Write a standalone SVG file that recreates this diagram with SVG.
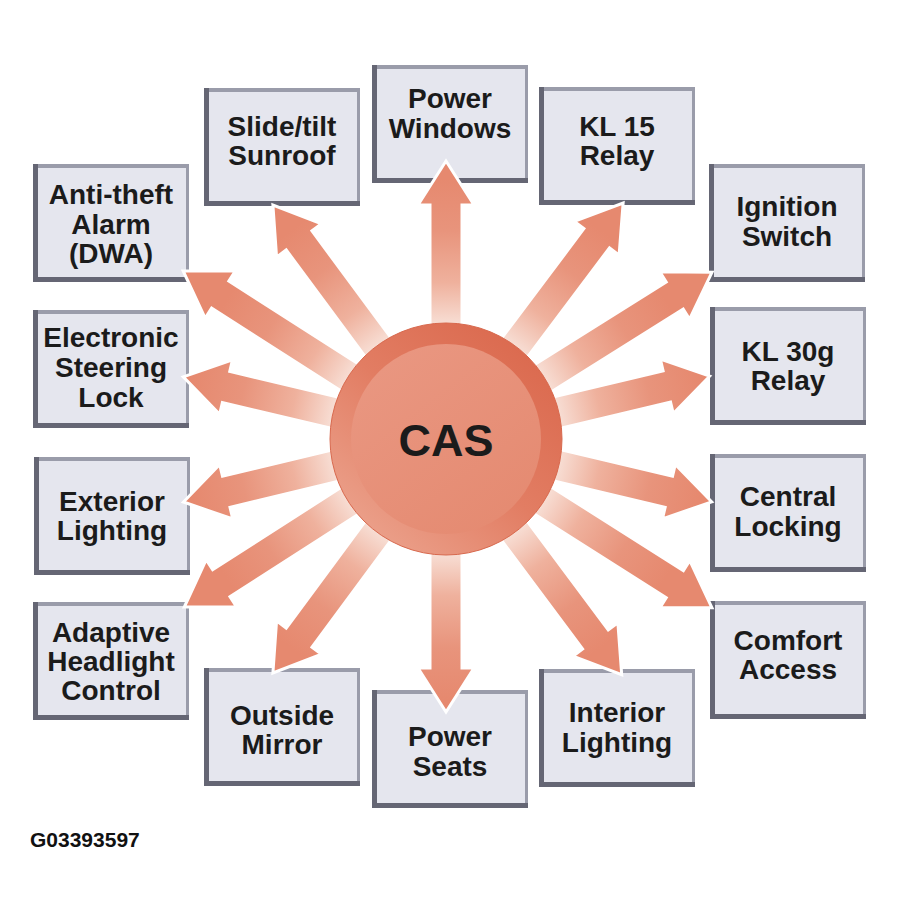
<svg xmlns="http://www.w3.org/2000/svg" width="900" height="912" viewBox="0 0 900 912">
<defs>
<linearGradient id="ray" gradientUnits="userSpaceOnUse" x1="112" y1="0" x2="260" y2="0">
<stop offset="0" stop-color="#f8e1d8"/>
<stop offset="0.3" stop-color="#efb19d"/>
<stop offset="0.65" stop-color="#e8947c"/>
<stop offset="1" stop-color="#e6896f"/>
</linearGradient>
<linearGradient id="ring" x1="0.85" y1="0.1" x2="0.15" y2="0.9">
<stop offset="0" stop-color="#db6a4f"/>
<stop offset="0.5" stop-color="#e27d63"/>
<stop offset="1" stop-color="#eba08a"/>
</linearGradient>
<linearGradient id="core" x1="0.2" y1="0.1" x2="0.8" y2="0.9">
<stop offset="0" stop-color="#e99680"/>
<stop offset="1" stop-color="#e58b72"/>
</linearGradient>
<style>
.frame{fill:#9a9caa}
.shade{fill:#656674}
.face{fill:#e5e6ee}
.lbl{font-family:"Liberation Sans",Arial,Helvetica,sans-serif;font-weight:bold;font-size:28px;fill:#1b1b1b;text-anchor:middle}
.arrow{fill:url(#ray);stroke:#ffffff;stroke-width:3;stroke-linejoin:miter}
</style>
</defs>
<rect width="900" height="912" fill="#ffffff"/>

<g id="nodes">
<g id="power-windows" transform="translate(372,65)"><rect class="frame" width="156" height="118"/><rect class="shade" width="5" height="118"/><rect class="shade" y="113" width="156" height="5"/><rect class="face" x="5" y="4" width="148" height="109"/><text class="lbl" x="78" y="43">Power</text><text class="lbl" x="78" y="73">Windows</text></g>
<g id="sunroof" transform="translate(204,88)"><rect class="frame" width="156" height="118"/><rect class="shade" width="5" height="118"/><rect class="shade" y="113" width="156" height="5"/><rect class="face" x="5" y="4" width="148" height="109"/><text class="lbl" x="78" y="48">Slide/tilt</text><text class="lbl" x="78" y="77">Sunroof</text></g>
<g id="kl15" transform="translate(539,87)"><rect class="frame" width="156" height="118"/><rect class="shade" width="5" height="118"/><rect class="shade" y="113" width="156" height="5"/><rect class="face" x="5" y="4" width="148" height="109"/><text class="lbl" x="78" y="49">KL 15</text><text class="lbl" x="78" y="78">Relay</text></g>
<g id="anti-theft" transform="translate(33,164)"><rect class="frame" width="156" height="118"/><rect class="shade" width="5" height="118"/><rect class="shade" y="113" width="156" height="5"/><rect class="face" x="5" y="4" width="148" height="109"/><text class="lbl" x="78" y="40">Anti-theft</text><text class="lbl" x="78" y="70">Alarm</text><text class="lbl" x="78" y="99">(DWA)</text></g>
<g id="ignition" transform="translate(709,164)"><rect class="frame" width="156" height="118"/><rect class="shade" width="5" height="118"/><rect class="shade" y="113" width="156" height="5"/><rect class="face" x="5" y="4" width="148" height="109"/><text class="lbl" x="78" y="52">Ignition</text><text class="lbl" x="78" y="82">Switch</text></g>
<g id="steering-lock" transform="translate(33,310)"><rect class="frame" width="156" height="118"/><rect class="shade" width="5" height="118"/><rect class="shade" y="113" width="156" height="5"/><rect class="face" x="5" y="4" width="148" height="109"/><text class="lbl" x="78" y="37">Electronic</text><text class="lbl" x="78" y="67">Steering</text><text class="lbl" x="78" y="97">Lock</text></g>
<g id="kl30g" transform="translate(710,307)"><rect class="frame" width="156" height="118"/><rect class="shade" width="5" height="118"/><rect class="shade" y="113" width="156" height="5"/><rect class="face" x="5" y="4" width="148" height="109"/><text class="lbl" x="78" y="54">KL 30g</text><text class="lbl" x="78" y="83">Relay</text></g>
<g id="exterior-lighting" transform="translate(34,457)"><rect class="frame" width="156" height="118"/><rect class="shade" width="5" height="118"/><rect class="shade" y="113" width="156" height="5"/><rect class="face" x="5" y="4" width="148" height="109"/><text class="lbl" x="78" y="54">Exterior</text><text class="lbl" x="78" y="83">Lighting</text></g>
<g id="central-locking" transform="translate(710,454)"><rect class="frame" width="156" height="118"/><rect class="shade" width="5" height="118"/><rect class="shade" y="113" width="156" height="5"/><rect class="face" x="5" y="4" width="148" height="109"/><text class="lbl" x="78" y="52">Central</text><text class="lbl" x="78" y="82">Locking</text></g>
<g id="adaptive-headlight" transform="translate(33,602)"><rect class="frame" width="156" height="118"/><rect class="shade" width="5" height="118"/><rect class="shade" y="113" width="156" height="5"/><rect class="face" x="5" y="4" width="148" height="109"/><text class="lbl" x="78" y="40">Adaptive</text><text class="lbl" x="78" y="69">Headlight</text><text class="lbl" x="78" y="98">Control</text></g>
<g id="comfort-access" transform="translate(710,601)"><rect class="frame" width="156" height="118"/><rect class="shade" width="5" height="118"/><rect class="shade" y="113" width="156" height="5"/><rect class="face" x="5" y="4" width="148" height="109"/><text class="lbl" x="78" y="49">Comfort</text><text class="lbl" x="78" y="78">Access</text></g>
<g id="outside-mirror" transform="translate(204,668)"><rect class="frame" width="156" height="118"/><rect class="shade" width="5" height="118"/><rect class="shade" y="113" width="156" height="5"/><rect class="face" x="5" y="4" width="148" height="109"/><text class="lbl" x="78" y="57">Outside</text><text class="lbl" x="78" y="86">Mirror</text></g>
<g id="power-seats" transform="translate(372,690)"><rect class="frame" width="156" height="118"/><rect class="shade" width="5" height="118"/><rect class="shade" y="113" width="156" height="5"/><rect class="face" x="5" y="4" width="148" height="109"/><text class="lbl" x="78" y="56">Power</text><text class="lbl" x="78" y="86">Seats</text></g>
<g id="interior-lighting" transform="translate(539,669)"><rect class="frame" width="156" height="118"/><rect class="shade" width="5" height="118"/><rect class="shade" y="113" width="156" height="5"/><rect class="face" x="5" y="4" width="148" height="109"/><text class="lbl" x="78" y="53">Interior</text><text class="lbl" x="78" y="83">Lighting</text></g>
</g>

<g id="connectors">
<path class="arrow" transform="translate(446,439) rotate(-90)" d="M0,-16 L234,-16 L234,-28 L278,0 L234,28 L234,16 L0,16 Z"/>
<path class="arrow" transform="translate(446,439) rotate(-126.5)" d="M0,-16 L247,-16 L247,-28 L291,0 L247,28 L247,16 L0,16 Z"/>
<path class="arrow" transform="translate(446,439) rotate(-53.1)" d="M0,-16 L251,-16 L251,-28 L295,0 L251,28 L251,16 L0,16 Z"/>
<path class="arrow" transform="translate(446,439) rotate(-147.4)" d="M0,-16 L268,-16 L268,-28 L312,0 L268,28 L268,16 L0,16 Z"/>
<path class="arrow" transform="translate(446,439) rotate(-32.1)" d="M0,-16 L270,-16 L270,-28 L314,0 L270,28 L270,16 L0,16 Z"/>
<path class="arrow" transform="translate(446,439) rotate(-166.7)" d="M0,-16 L226,-16 L226,-28 L270,0 L226,28 L226,16 L0,16 Z"/>
<path class="arrow" transform="translate(446,439) rotate(-13.4)" d="M0,-16 L227,-16 L227,-28 L271,0 L227,28 L227,16 L0,16 Z"/>
<path class="arrow" transform="translate(446,439) rotate(166.5)" d="M0,-16 L226,-16 L226,-28 L270,0 L226,28 L226,16 L0,16 Z"/>
<path class="arrow" transform="translate(446,439) rotate(13.3)" d="M0,-16 L229,-16 L229,-28 L273,0 L229,28 L229,16 L0,16 Z"/>
<path class="arrow" transform="translate(446,439) rotate(147.3)" d="M0,-16 L267,-16 L267,-28 L311,0 L267,28 L267,16 L0,16 Z"/>
<path class="arrow" transform="translate(446,439) rotate(32.4)" d="M0,-16 L271,-16 L271,-28 L315,0 L271,28 L271,16 L0,16 Z"/>
<path class="arrow" transform="translate(446,439) rotate(126.5)" d="M0,-16 L247,-16 L247,-28 L291,0 L247,28 L247,16 L0,16 Z"/>
<path class="arrow" transform="translate(446,439) rotate(53.3)" d="M0,-16 L250,-16 L250,-28 L294,0 L250,28 L250,16 L0,16 Z"/>
<path class="arrow" transform="translate(446,439) rotate(90)" d="M0,-16 L229,-16 L229,-28 L273,0 L229,28 L229,16 L0,16 Z"/>
</g>

<g id="cas">
<circle cx="446" cy="439" r="116" fill="url(#ring)" stroke="#d8694e" stroke-width="1"/>
<circle cx="446" cy="439" r="95" fill="url(#core)"/>
<text x="446" y="456" font-family="'Liberation Sans',Arial,Helvetica,sans-serif" font-weight="bold" font-size="45" fill="#1b1b1b" text-anchor="middle">CAS</text>
</g>

<text x="30" y="847" font-family="'Liberation Sans',Arial,Helvetica,sans-serif" font-weight="bold" font-size="21" fill="#111111">G03393597</text>
</svg>
